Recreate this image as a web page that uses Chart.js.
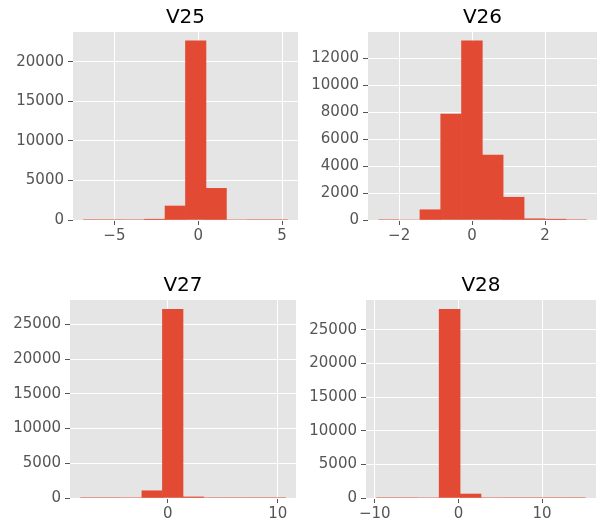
<!DOCTYPE html>
<html>
<head>
<meta charset="utf-8">
<script src="https://cdn.jsdelivr.net/npm/chart.js@4.4.1/dist/chart.umd.min.js"></script>
<style>
  html, body { margin: 0; padding: 0; background: #ffffff; }
  #wrap { position: relative; width: 608px; height: 525px; overflow: hidden; }
  canvas { position: absolute; }
</style>
</head>
<body>
<div id="wrap">
  <canvas id="c25" width="304" height="258" style="left:0;top:0"></canvas>
  <canvas id="c26" width="304" height="258" style="left:304px;top:0"></canvas>
  <canvas id="c27" width="304" height="257" style="left:0;top:268px"></canvas>
  <canvas id="c28" width="304" height="257" style="left:304px;top:268px"></canvas>
</div>
<script>
// --- data (10 bins each) ---
const v25Edges  = [-6.86, -5.64, -4.42, -3.20, -1.98, -0.76, 0.46, 1.68, 2.90, 4.12, 5.34];
const v25Counts = [2, 3, 12, 100, 1770, 22650, 4000, 20, 4, 3];
const v25XTicks = [-5, 0, 5];
const v25YTicks = [0, 5000, 10000, 15000, 20000];
const v25XLim   = [-7.47, 5.95];
const v25YMax   = 23780;

const v26Edges  = [-2.57, -2.0, -1.43, -0.86, -0.29, 0.28, 0.85, 1.43, 2.0, 2.57, 3.14];
const v26Counts = [3, 20, 760, 7870, 13300, 4820, 1690, 90, 60, 4];
const v26XTicks = [-2, 0, 2];
const v26YTicks = [0, 2000, 4000, 6000, 8000, 10000, 12000];
const v26XLim   = [-2.855, 3.425];
const v26YMax   = 13965;

const v27Edges  = [-7.97, -6.10, -4.23, -2.36, -0.49, 1.38, 3.25, 5.12, 6.99, 8.86, 10.73];
const v27Counts = [1, 2, 10, 1040, 27140, 150, 8, 3, 1, 1];
const v27XTicks = [0, 10];
const v27YTicks = [0, 5000, 10000, 15000, 20000, 25000];
const v27XLim   = [-8.905, 11.665];
const v27YMax   = 28500;

const v28Edges  = [-9.8, -7.3, -4.8, -2.3, 0.2, 2.7, 5.2, 7.7, 10.2, 12.7, 15.2];
const v28Counts = [2, 5, 20, 28030, 590, 10, 4, 2, 1, 1];
const v28XTicks = [-10, 0, 10];
const v28YTicks = [0, 5000, 10000, 15000, 20000, 25000];
const v28XLim   = [-11.05, 16.45];
const v28YMax   = 29430;

// ggplot-ish look
const BAR = '#E24A33';
const PANEL = '#E5E5E5';
const TICK = '#555555';
const FONT = 'DejaVu Sans';

// grey panel behind the plot area
const panelBg = {
  id: 'panelBg',
  beforeDraw(chart) {
    const { ctx, chartArea: a } = chart;
    ctx.save();
    ctx.fillStyle = PANEL;
    ctx.fillRect(a.left, a.top, a.right - a.left, a.bottom - a.top);
    ctx.restore();
  }
};

function minusSign(v) {
  return String(v).replace('-', '\u2212');
}

// box = where the plot area should sit inside the canvas
function makeHist(id, title, edges, counts, xTicks, yTicks, xLim, yMax, box) {
  const canvas = document.getElementById(id);
  const points = counts.map((c, i) => ({ x: (edges[i] + edges[i + 1]) / 2, y: c }));

  new Chart(canvas, {
    type: 'bar',
    data: {
      datasets: [{
        data: points,
        backgroundColor: BAR,
        borderWidth: 0,
        // close seams between big bars, but keep near-empty bins invisible
        inflateAmount: ctx => (ctx.raw && ctx.raw.y > 50 ? 0.33 : 0),
        barPercentage: 1,
        categoryPercentage: 1,
        grouped: false
      }]
    },
    options: {
      responsive: false,
      animation: false,
      devicePixelRatio: 1,
      layout: { padding: { left: 0, right: canvas.width - box.right, top: 0, bottom: 0 } },
      plugins: {
        legend: { display: false },
        tooltip: { enabled: false },
        title: {
          display: true,
          text: title,
          fullSize: false,
          color: '#000000',
          font: { family: FONT, size: 20, weight: 'normal', lineHeight: 1.2 },
          padding: { top: box.top - 14 - 12, bottom: 14 + 12 - 24 }
        }
      },
      scales: {
        x: {
          type: 'linear',
          min: xLim[0],
          max: xLim[1],
          offset: false,
          afterBuildTicks: s => { s.ticks = xTicks.map(v => ({ value: v })); },
          afterFit: s => { s.height = canvas.height - box.bottom; },
          grid: { offset: false, color: '#FFFFFF', lineWidth: 1, drawTicks: true, tickColor: TICK, tickLength: 5 },
          border: { display: false },
          ticks: {
            color: TICK,
            font: { family: FONT, size: 15 },
            padding: 2,
            maxRotation: 0,
            autoSkip: false,
            callback: v => minusSign(v)
          }
        },
        y: {
          type: 'linear',
          min: 0,
          max: yMax,
          afterBuildTicks: s => { s.ticks = yTicks.map(v => ({ value: v })); },
          afterFit: s => { s.width = box.left; },
          grid: { color: '#FFFFFF', lineWidth: 1, drawTicks: true, tickColor: TICK, tickLength: 5 },
          border: { display: false },
          ticks: {
            color: TICK,
            font: { family: FONT, size: 15 },
            padding: 4,
            autoSkip: false,
            callback: v => String(v)
          }
        }
      }
    },
    plugins: [panelBg]
  });
}

makeHist('c25', 'V25', v25Edges, v25Counts, v25XTicks, v25YTicks, v25XLim, v25YMax,
  { left: 73, top: 32, right: 298, bottom: 220 });
makeHist('c26', 'V26', v26Edges, v26Counts, v26XTicks, v26YTicks, v26XLim, v26YMax,
  { left: 64, top: 32, right: 293, bottom: 220 });
makeHist('c27', 'V27', v27Edges, v27Counts, v27XTicks, v27YTicks, v27XLim, v27YMax,
  { left: 70, top: 32, right: 296, bottom: 230 });
makeHist('c28', 'V28', v28Edges, v28Counts, v28XTicks, v28YTicks, v28XLim, v28YMax,
  { left: 62, top: 32, right: 292, bottom: 230 });
</script>
</body>
</html>
